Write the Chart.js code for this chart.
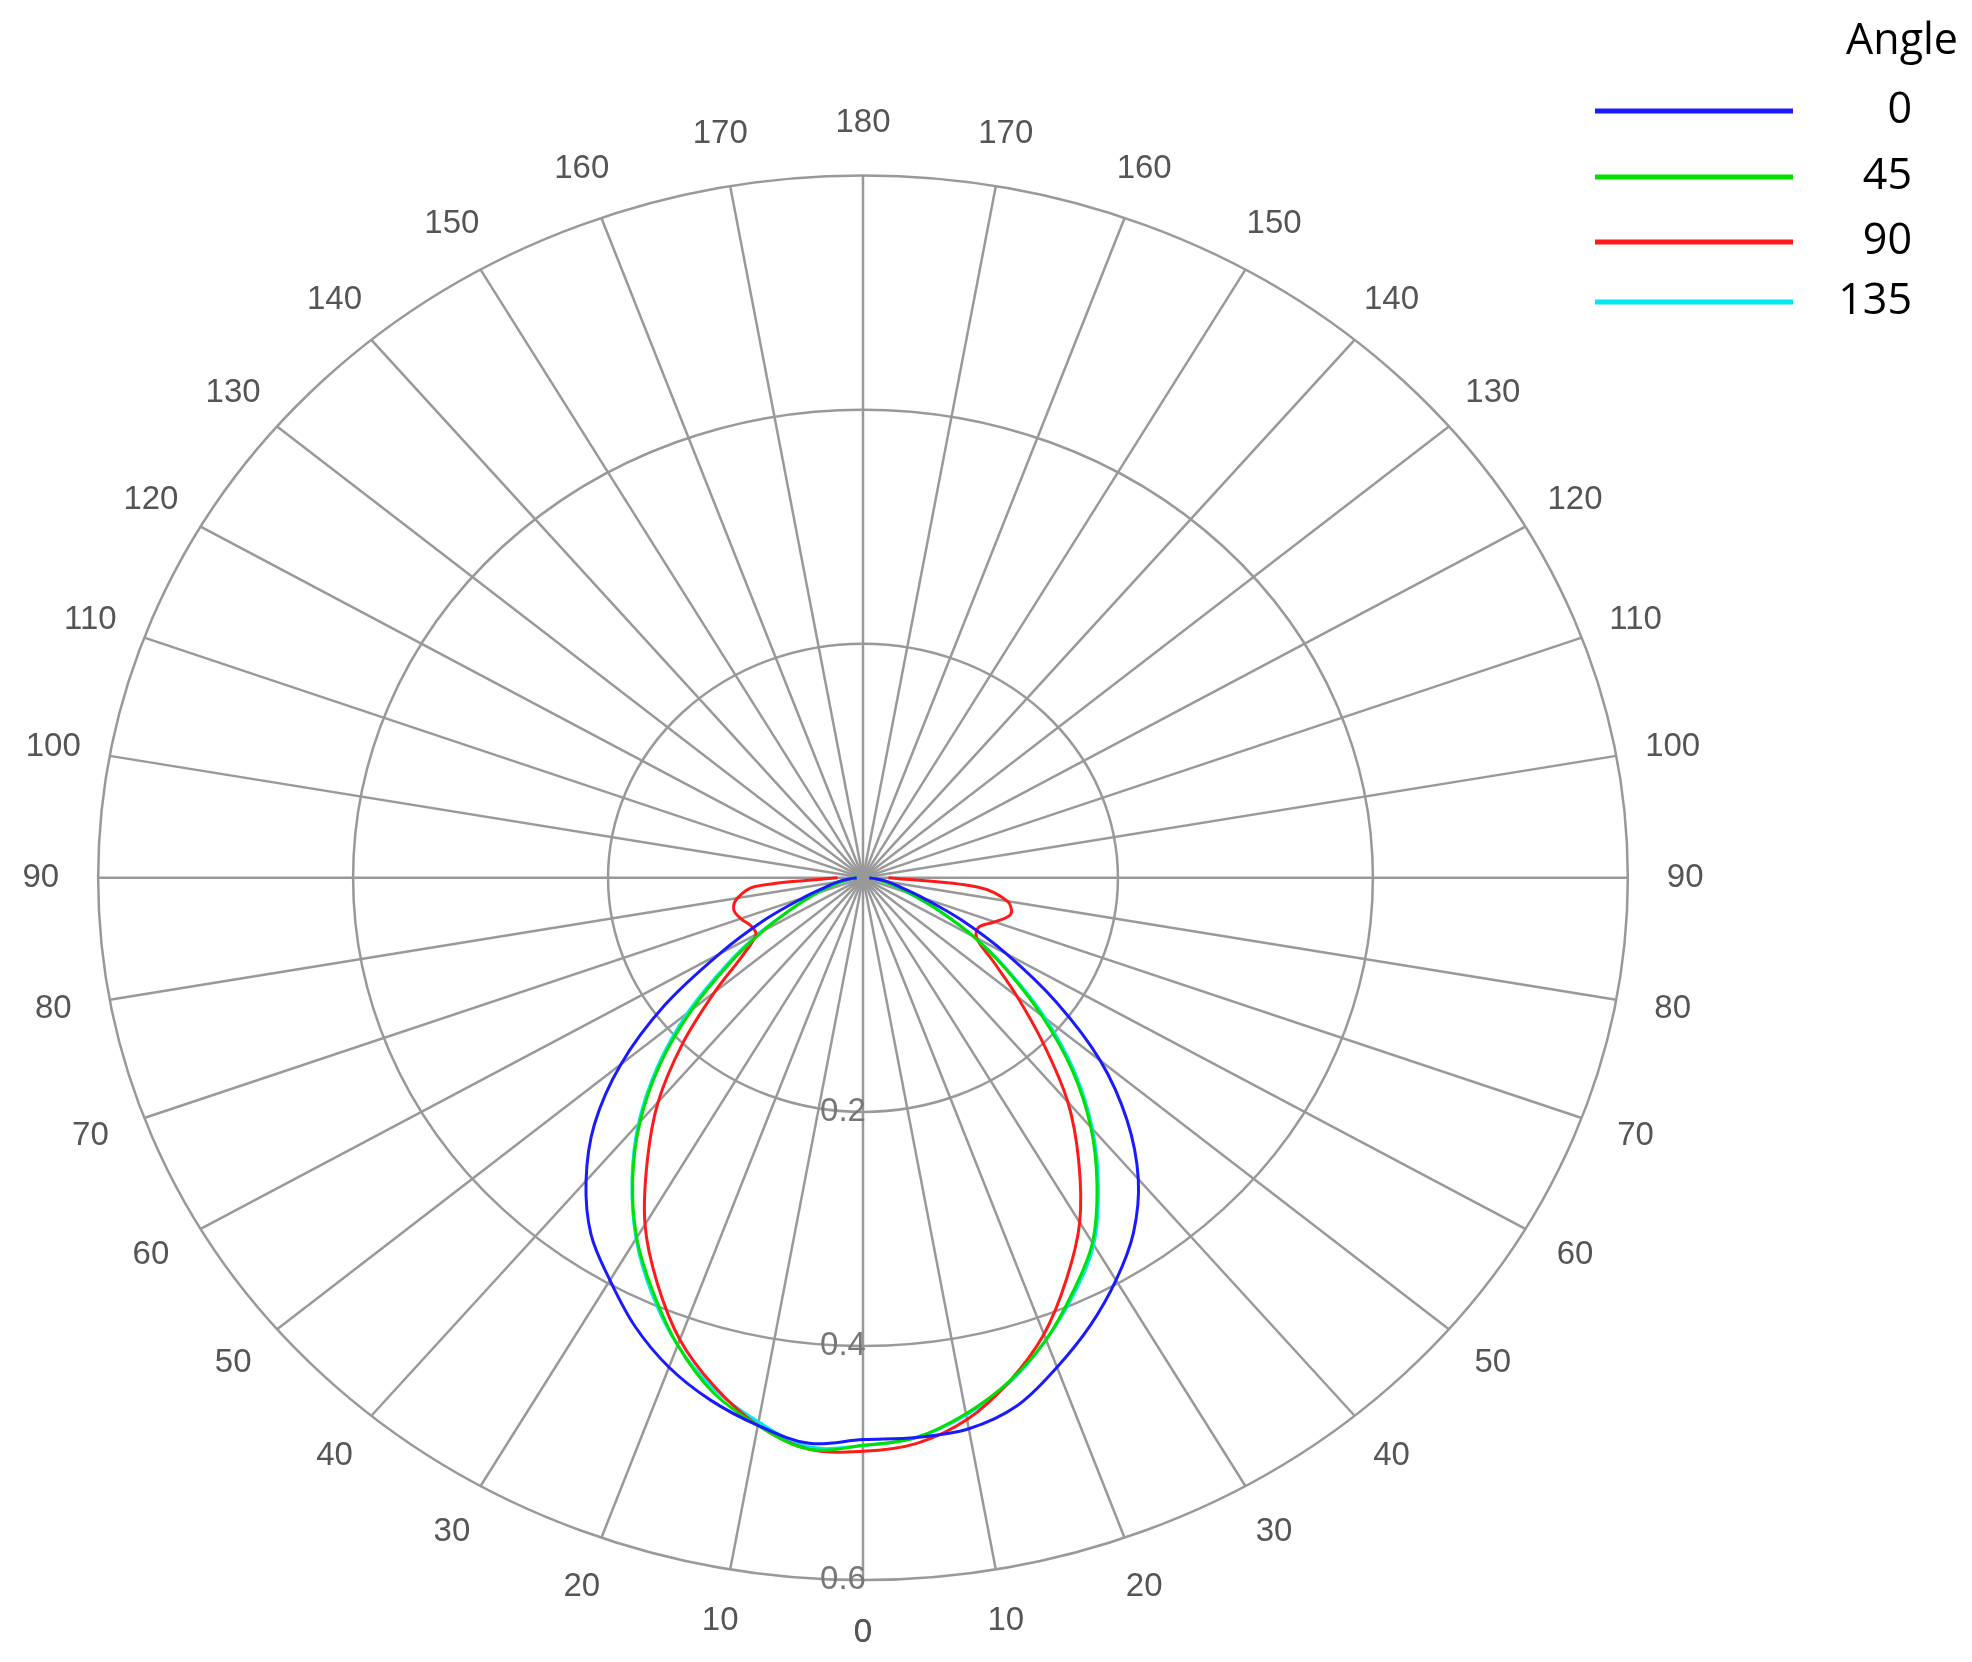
<!DOCTYPE html>
<html>
<head>
<meta charset="utf-8">
<script src="https://cdn.jsdelivr.net/npm/chart.js@4"></script>
<style>
  html, body { margin: 0; padding: 0; background: #fff; }
  #wrap { width: 1972px; height: 1662px; }
</style>
</head>
<body>
<div id="wrap"><canvas id="polar"></canvas></div>
<script>
// polar angles (deg from downward axis), same for both halves
const angles = [0, 5, 10, 15, 20, 25, 30, 35, 40, 45, 50, 55, 60, 65, 70, 75, 80, 85, 90];

// intensity, left half / right half
const blueLeft   = [0.484, 0.485, 0.475, 0.462, 0.445, 0.423, 0.397, 0.372, 0.338, 0.298, 0.248, 0.19, 0.13, 0.085, 0.05, 0.03, 0.02, 0.01, 0.005];
const blueRight  = [0.48, 0.48, 0.478, 0.467, 0.445, 0.422, 0.397, 0.37, 0.336, 0.293, 0.243, 0.185, 0.13, 0.085, 0.05, 0.03, 0.02, 0.01, 0.005];
const greenLeft  = [0.49, 0.49, 0.475, 0.455, 0.425, 0.39, 0.355, 0.315, 0.272, 0.225, 0.175, 0.128, 0.09, 0.06, 0.04, 0.025, 0.015, 0.01, 0.005];
const greenRight = [0.485, 0.48, 0.465, 0.445, 0.42, 0.39, 0.36, 0.32, 0.278, 0.232, 0.183, 0.138, 0.1, 0.065, 0.04, 0.025, 0.015, 0.01, 0.005];
const redLeft    = [0.49, 0.49, 0.475, 0.45, 0.42, 0.382, 0.342, 0.295, 0.25, 0.2, 0.152, 0.115, 0.097, 0.097, 0.102, 0.105, 0.1, 0.085, 0.02];
const redRight   = [0.49, 0.485, 0.47, 0.445, 0.415, 0.378, 0.34, 0.295, 0.25, 0.2, 0.158, 0.125, 0.103, 0.1, 0.11, 0.12, 0.115, 0.09, 0.02];
const cyanLeft   = [0.488, 0.488, 0.472, 0.452, 0.425, 0.392, 0.356, 0.316, 0.274, 0.228, 0.18, 0.132, 0.093, 0.06, 0.04, 0.025, 0.015, 0.01, 0.005];
const cyanRight  = [0.485, 0.48, 0.466, 0.446, 0.42, 0.392, 0.362, 0.322, 0.28, 0.235, 0.187, 0.14, 0.1, 0.065, 0.04, 0.025, 0.015, 0.01, 0.005];

const seriesNames = ['0', '45', '90', '135'];
const seriesColors = ['#1a1aff', '#00e000', '#ff1a1a', '#00e8f0'];

const ringValues = [0.2, 0.4, 0.6];

function toPoints(left, right) {
    const pts = [];
    for (let i = angles.length - 1; i >= 0; i--) {
        const t = angles[i] * Math.PI / 180;
        pts.push({ x: right[i] * Math.sin(t), y: -right[i] * Math.cos(t) });
    }
    for (let i = 1; i < angles.length; i++) {
        const t = angles[i] * Math.PI / 180;
        pts.push({ x: -left[i] * Math.sin(t), y: -left[i] * Math.cos(t) });
    }
    return pts;
}

const curves = [
    toPoints(blueLeft, blueRight),
    toPoints(greenLeft, greenRight),
    toPoints(redLeft, redRight),
    toPoints(cyanLeft, cyanRight)
];

// grid + labels + legend drawn under/over the curves using the chart scales
const polarGrid = {
    id: 'polarGrid',
    beforeDatasetsDraw(chart) {
        const { ctx, scales: { x, y } } = chart;
        const cx = x.getPixelForValue(0), cy = y.getPixelForValue(0);
        const rMax = ringValues[ringValues.length - 1];
        ctx.save();
        ctx.strokeStyle = '#999';
        ctx.lineWidth = 2.5;
        ringValues.forEach(r => {
            const rx = x.getPixelForValue(r) - cx, ry = cy - y.getPixelForValue(r);
            ctx.beginPath();
            ctx.ellipse(cx, cy, rx, ry, 0, 0, Math.PI * 2);
            ctx.stroke();
        });
        ctx.font = '33px "Liberation Sans", Arial, sans-serif';
        ctx.fillStyle = '#555';
        ctx.textAlign = 'center';
        ctx.textBaseline = 'middle';
        for (let a = -170; a <= 180; a += 10) {
            const t = a * Math.PI / 180;
            ctx.beginPath();
            ctx.moveTo(cx, cy);
            ctx.lineTo(x.getPixelForValue(rMax * Math.sin(t)), y.getPixelForValue(-rMax * Math.cos(t)));
            ctx.stroke();
            const lr = rMax + 0.045;
            ctx.fillText(String(Math.abs(a)), x.getPixelForValue(lr * Math.sin(t)), y.getPixelForValue(-lr * Math.cos(t)));
        }
        ctx.fillText('0', cx, y.getPixelForValue(-rMax - 0.045));
        ctx.fillStyle = '#777';
        ringValues.forEach(r => {
            ctx.fillText(r.toFixed(1), cx - 20, y.getPixelForValue(-r));
        });
        ctx.restore();
    },
    afterDraw(chart) {
        const ctx = chart.ctx;
        ctx.save();
        ctx.font = '43px "Open Sans", "Liberation Sans", sans-serif';
        ctx.fillStyle = '#000';
        ctx.textAlign = 'right';
        ctx.textBaseline = 'middle';
        ctx.fillText('Angle', 1958, 42);
        const rows = [111, 177, 242, 302];
        seriesNames.forEach((n, i) => {
            ctx.strokeStyle = seriesColors[i];
            ctx.lineWidth = 5;
            ctx.beginPath();
            ctx.moveTo(1595, rows[i]);
            ctx.lineTo(1793, rows[i]);
            ctx.stroke();
            ctx.fillText(n, 1912, rows[i]);
        });
        ctx.restore();
    }
};

new Chart(document.getElementById('polar'), {
    type: 'scatter',
    data: {
        datasets: curves.map((pts, i) => ({
            label: seriesNames[i],
            data: pts,
            showLine: true,
            tension: 0.35,
            borderColor: seriesColors[i],
            borderWidth: 3,
            pointRadius: 0
        }))
    },
    options: {
        responsive: true,
        maintainAspectRatio: false,
        animation: false,
        layout: { padding: 0 },
        plugins: { legend: { display: false }, tooltip: { enabled: false } },
        scales: {
            x: { type: 'linear', display: false, min: -0.677, max: 0.870 },
            y: { type: 'linear', display: false, min: -0.670, max: 0.750 }
        }
    },
    plugins: [polarGrid]
});
</script>
</body>
</html>
